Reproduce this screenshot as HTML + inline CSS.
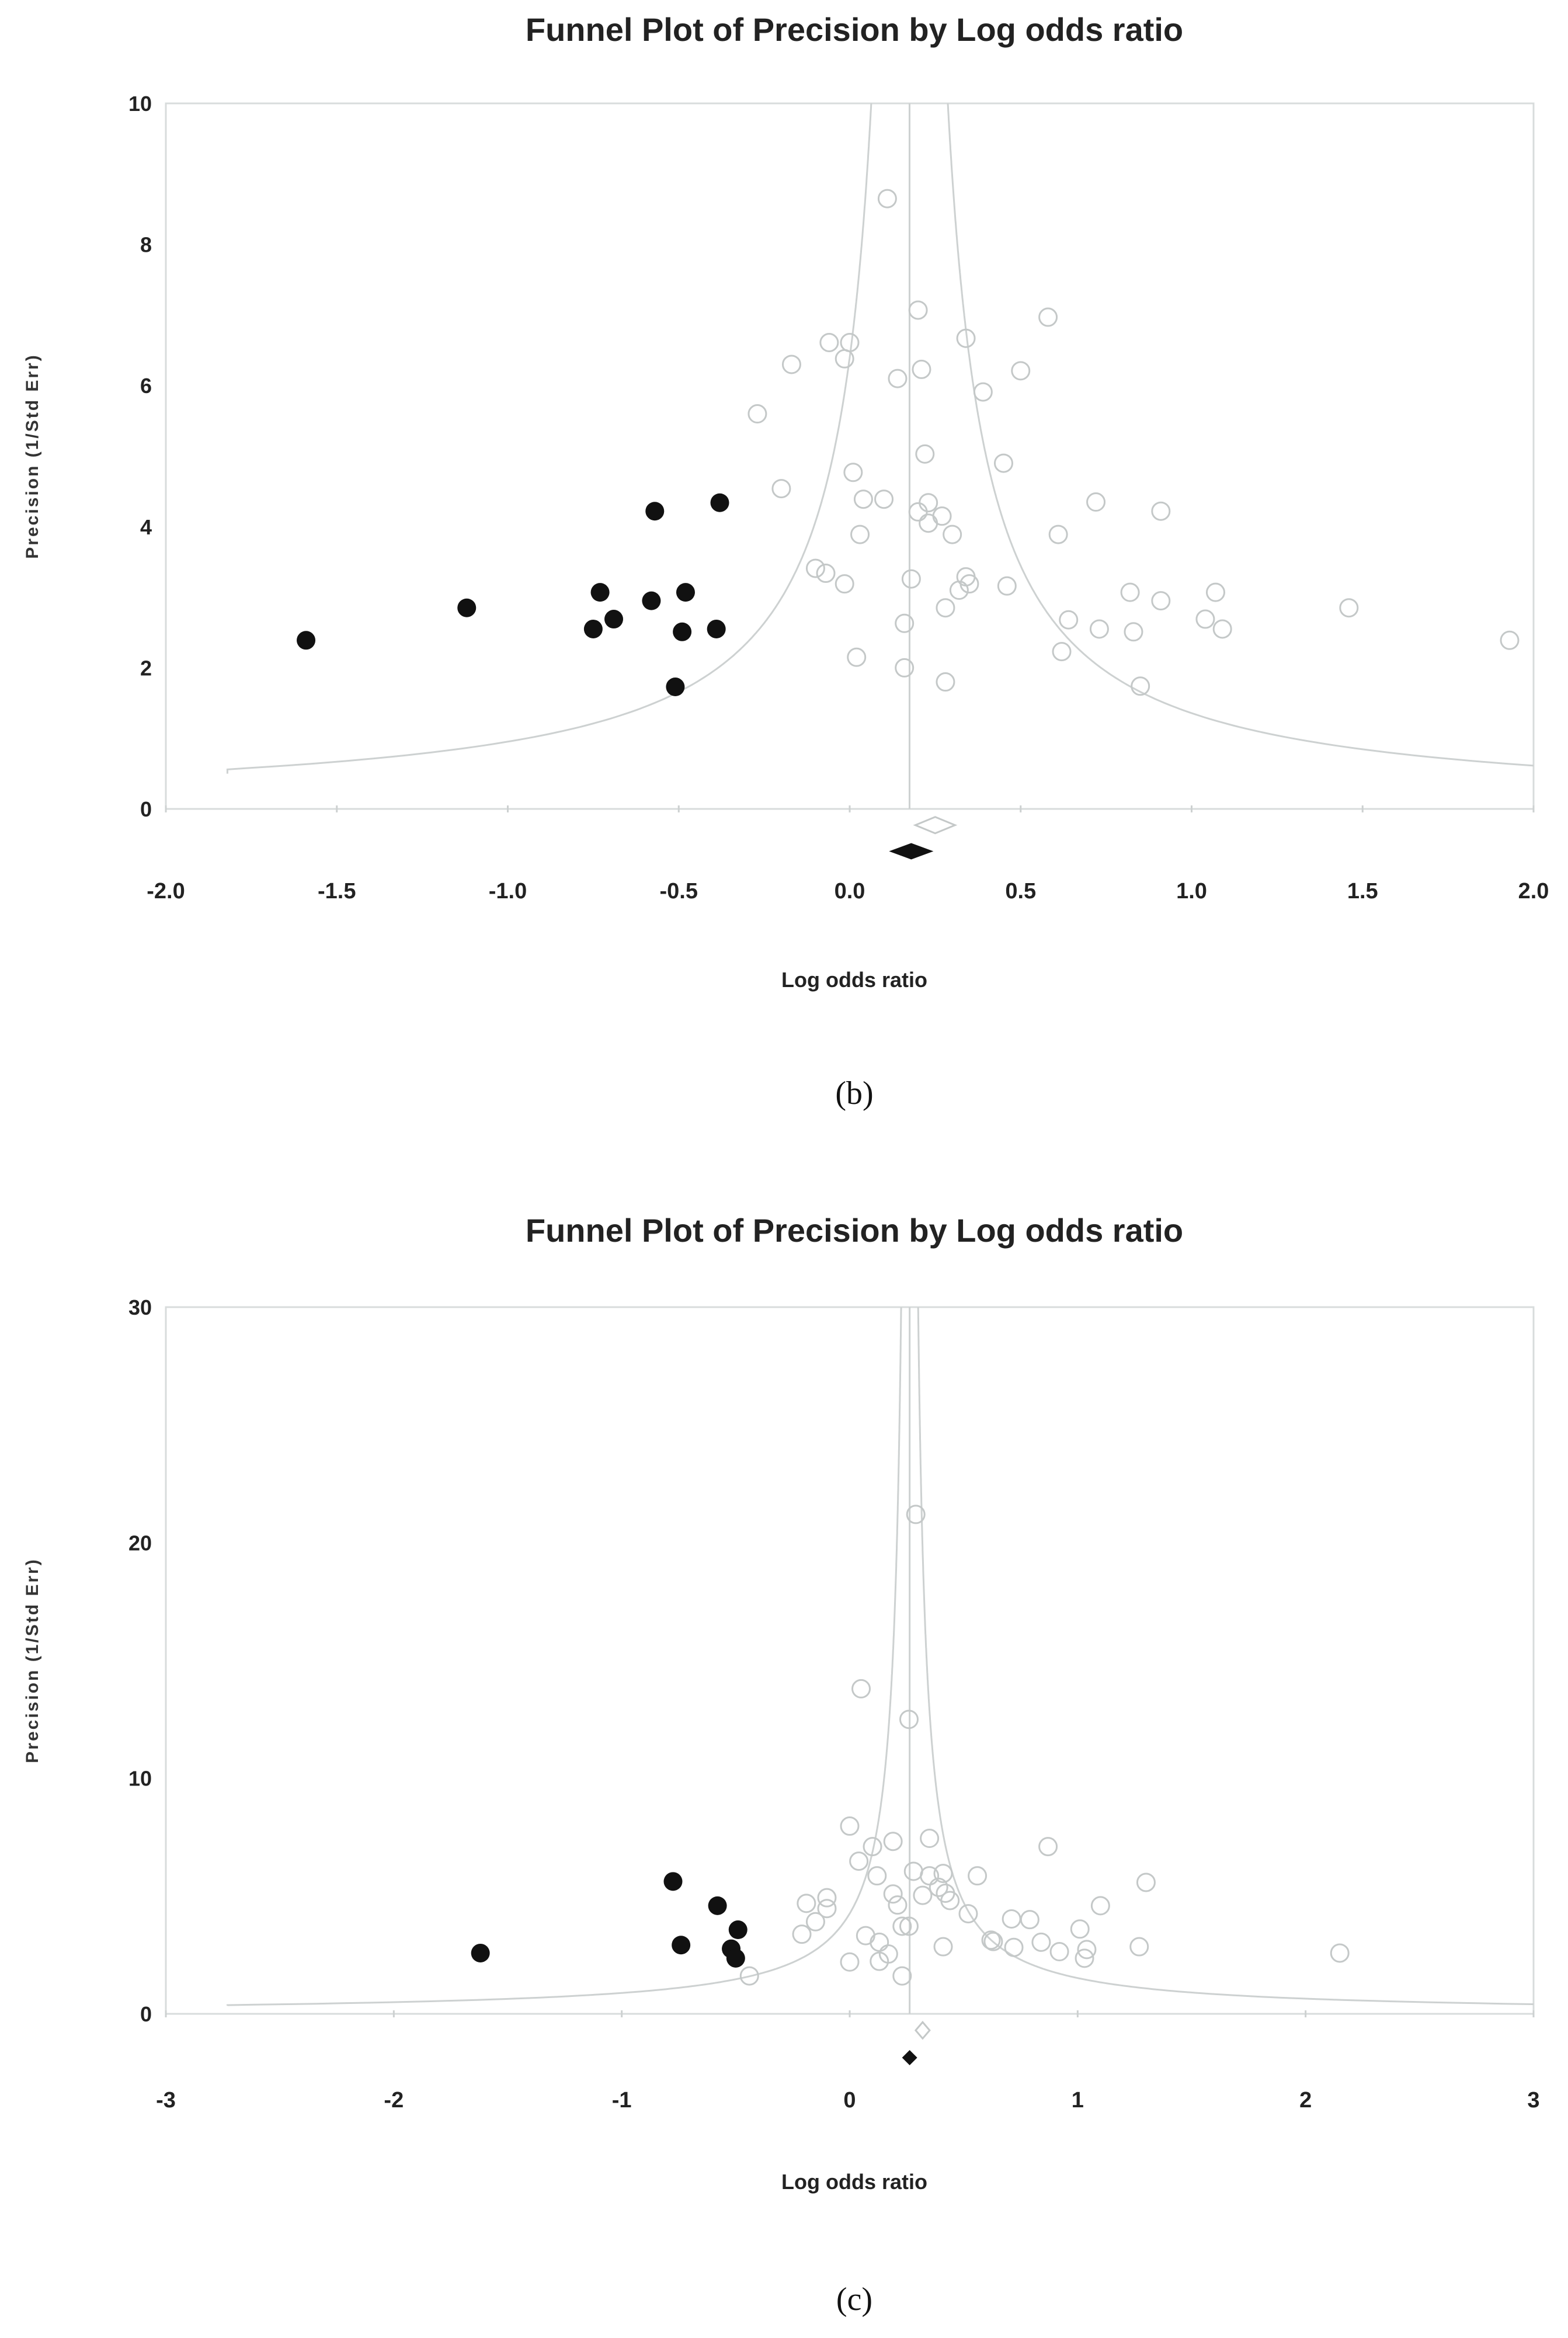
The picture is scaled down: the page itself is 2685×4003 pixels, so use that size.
<!DOCTYPE html>
<html><head><meta charset="utf-8"><style>
html,body{margin:0;padding:0;background:#fff;}
svg{display:block;}
text{font-family:"Liberation Sans",Arial,sans-serif;}
</style></head><body>
<svg id="root" width="2685" height="4003" viewBox="0 0 2685 4003" xmlns="http://www.w3.org/2000/svg"></svg>
<script>
// ---- Chart (b) data ----
const bFilledX=[-1.59,-1.12,-0.75,-0.73,-0.69,-0.58,-0.57,-0.51,-0.49,-0.48,-0.39,-0.38];
const bFilledY=[2.39,2.85,2.55,3.07,2.69,2.95,4.22,1.73,2.51,3.07,2.55,4.34];
const bOpenX=[0.11,0.20,0.58,-0.06,0.00,-0.015,0.34,-0.17,0.21,0.50,0.14,0.39,-0.27,0.22,0.45,0.01,-0.20,0.04,0.10,0.23,0.72,0.20,0.27,0.23,0.91,0.03,0.30,0.61,-0.10,-0.07,0.34,0.35,0.32,-0.015,0.18,0.46,0.82,1.07,0.91,0.28,1.46,0.16,0.64,1.04,0.73,0.83,1.09,1.93,0.62,0.02,0.16,0.28,0.85];
const bOpenY=[8.65,7.07,6.97,6.61,6.61,6.38,6.67,6.30,6.23,6.21,6.10,5.91,5.60,5.03,4.90,4.77,4.54,4.39,4.39,4.34,4.35,4.21,4.15,4.05,4.22,3.89,3.89,3.89,3.41,3.34,3.29,3.19,3.10,3.19,3.26,3.16,3.07,3.07,2.95,2.85,2.85,2.63,2.68,2.69,2.55,2.51,2.55,2.39,2.23,2.15,2.00,1.80,1.74];
const bXTicks=[-2.0,-1.5,-1.0,-0.5,0.0,0.5,1.0,1.5,2.0];
const bYTicks=[0,2,4,6,8,10];
const bCenter=0.175;
// ---- Chart (c) data ----
const cFilledX=[-0.775,-0.58,-0.49,-0.74,-0.52,-0.50,-1.62];
const cFilledY=[5.62,4.59,3.57,2.92,2.76,2.36,2.58];
const cOpenX=[0.29,0.05,0.26,0.00,0.35,0.19,0.10,0.87,0.04,0.28,0.35,0.41,0.12,0.56,1.30,0.39,0.42,0.44,0.19,0.21,0.32,-0.10,-0.19,-0.10,1.10,0.52,0.71,0.79,0.23,0.26,-0.15,1.01,-0.21,0.07,0.62,0.13,0.84,0.41,0.72,1.27,0.92,1.04,2.15,0.17,1.03,0.00,0.13,0.23,-0.44,0.63];
const cOpenY=[21.2,13.8,12.5,7.97,7.45,7.32,7.10,7.10,6.48,6.05,5.86,5.96,5.86,5.86,5.58,5.37,5.12,4.81,5.09,4.62,5.03,4.93,4.69,4.47,4.59,4.25,4.03,4.00,3.72,3.72,3.91,3.60,3.38,3.32,3.13,3.04,3.04,2.85,2.82,2.85,2.64,2.73,2.58,2.54,2.36,2.20,2.23,1.61,1.61,3.07];
const cXTicks=[-3,-2,-1,0,1,2,3];
const cYTicks=[0,10,20,30];
const cCenter=0.263;

const NS="http://www.w3.org/2000/svg";
const root=document.getElementById('root');
function mk(tag,attrs,parent){const e=document.createElementNS(NS,tag);for(const k in attrs)e.setAttribute(k,attrs[k]);(parent||root).appendChild(e);return e;}

function chart(cfg){
  const g=mk('g',{});
  
  
  const L=cfg.left,R=cfg.right,T=cfg.top,B=cfg.bottom;
  const sx=v=>L+(v-cfg.xmin)/(cfg.xmax-cfg.xmin)*(R-L);
  const sy=v=>B-(v-cfg.ymin)/(cfg.ymax-cfg.ymin)*(B-T);
  const title=mk('text',{x:1463,y:cfg.titleY,'text-anchor':'middle','font-size':56,'font-weight':'bold',fill:'#222'},g);
  title.textContent='Funnel Plot of Precision by Log odds ratio';
  
  
  const frame=mk('rect',{x:L,y:T,width:R-L,height:B-T,fill:'none',stroke:'#d8dcdc','stroke-width':3},g);
  
  
  const clip='clip-'+cfg.name;
  const cp=mk('clipPath',{id:clip},g);mk('rect',{x:L,y:T,width:R-L,height:B-T},cp);
  let dl='',dr='';
  for(let p=cfg.pStart;p<=cfg.ymax*1.5;p+=0.02*Math.max(1,p/5)){
    const off=cfg.k/p;
    dl+=(dl?'L':'M')+sx(Math.max(cfg.xmin+cfg.leftStart,cfg.center-off)).toFixed(1)+' '+sy(p).toFixed(1);
    dr+=(dr?'L':'M')+sx(cfg.center+off).toFixed(1)+' '+sy(p).toFixed(1);
  }
  const fl=mk('path',{d:dl,fill:'none',stroke:'#cdd1d1','stroke-width':3,'clip-path':'url(#'+clip+')'},g);
  
  
  const fr=mk('path',{d:dr,fill:'none',stroke:'#cdd1d1','stroke-width':3,'clip-path':'url(#'+clip+')'},g);
  
  
  const cl=mk('line',{x1:sx(cfg.center),x2:sx(cfg.center),y1:T,y2:B,stroke:'#cdd1d1','stroke-width':3},g);
  
  
  cfg.xticks.forEach(v=>{
    mk('line',{x1:sx(v),x2:sx(v),y1:B-6,y2:B+6,stroke:'#cdd1d1','stroke-width':3},g);
    const t=mk('text',{x:sx(v),y:cfg.xLabelY,'text-anchor':'middle','font-size':38,'font-weight':'bold',fill:'#222'},g);
    t.textContent=cfg.fmt(v);
    
    
  });
  cfg.yticks.forEach(v=>{
    const t=mk('text',{x:L-24,y:sy(v)+13,'text-anchor':'end','font-size':36,'font-weight':'bold',fill:'#222'},g);
    t.textContent=String(v);
    
    
  });
  const xt=mk('text',{x:1463,y:cfg.xTitleY,'text-anchor':'middle','font-size':36,'font-weight':'bold',fill:'#222'},g);
  xt.textContent='Log odds ratio';
  
  
  const yc=(T+B)/2;
  const yt=mk('text',{x:57,y:yc,transform:'rotate(-90 57 '+yc+')','text-anchor':'middle','dominant-baseline':'middle','font-size':30,'font-weight':'bold','letter-spacing':3,fill:'#333'},g);
  yt.textContent='Precision (1/Std Err)';
  
  
  cfg.ox.forEach((v,i)=>{
    const c=mk('circle',{cx:sx(v),cy:sy(cfg.oy[i]),r:15,fill:'none',stroke:'#c4c8c8','stroke-width':3},g);
    
    
  });
  cfg.fx.forEach((v,i)=>{
    const c=mk('circle',{cx:sx(v),cy:sy(cfg.fy[i]),r:16,fill:'#111'},g);
    
    
  });
  const hx=sx(cfg.hollowD[0]),hy=sy(cfg.hollowD[1]),hw=cfg.hollowD[2],hh=cfg.hollowD[3];
  const d1=mk('polygon',{points:`${hx-hw},${hy} ${hx},${hy-hh} ${hx+hw},${hy} ${hx},${hy+hh}`,fill:'#fff',stroke:'#c4c8c8','stroke-width':3},g);
  
  
  const fx=sx(cfg.filledD[0]),fy=sy(cfg.filledD[1]),fw=cfg.filledD[2],fh=cfg.filledD[3];
  const d2=mk('polygon',{points:`${fx-fw},${fy} ${fx},${fy-fh} ${fx+fw},${fy} ${fx},${fy+fh}`,fill:'#111'},g);
  
  
  const cap=mk('text',{x:1463,y:cfg.capY,'text-anchor':'middle','font-size':56,fill:'#111'},g);
  cap.setAttribute('style','font-family:"Liberation Serif",serif');
  cap.textContent=cfg.cap;
  
  
}

chart({name:'funnel-plot-b',left:284,right:2626,top:177,bottom:1385,xmin:-2,xmax:2,ymin:0,ymax:10,
  center:bCenter,k:1.12,pStart:0.5,leftStart:0.18,xticks:bXTicks,yticks:bYTicks,fmt:v=>v.toFixed(1),
  ox:bOpenX,oy:bOpenY,fx:bFilledX,fy:bFilledY,hollowD:[0.25,-0.23,34,14],filledD:[0.18,-0.6,38,14],
  titleY:70,xLabelY:1538,xTitleY:1690,capY:1890,cap:'(b)'});
chart({name:'funnel-plot-c',left:284,right:2626,top:2238,bottom:3448,xmin:-3,xmax:3,ymin:0,ymax:30,
  center:cCenter,k:1.12,pStart:0.35,leftStart:0.27,xticks:cXTicks,yticks:cYTicks,fmt:v=>String(v),
  ox:cOpenX,oy:cOpenY,fx:cFilledX,fy:cFilledY,hollowD:[0.32,-0.7,12,14],filledD:[0.263,-1.86,13,13],
  titleY:2126,xLabelY:3608,xTitleY:3748,capY:3955,cap:'(c)'});
</script>
</body></html>
